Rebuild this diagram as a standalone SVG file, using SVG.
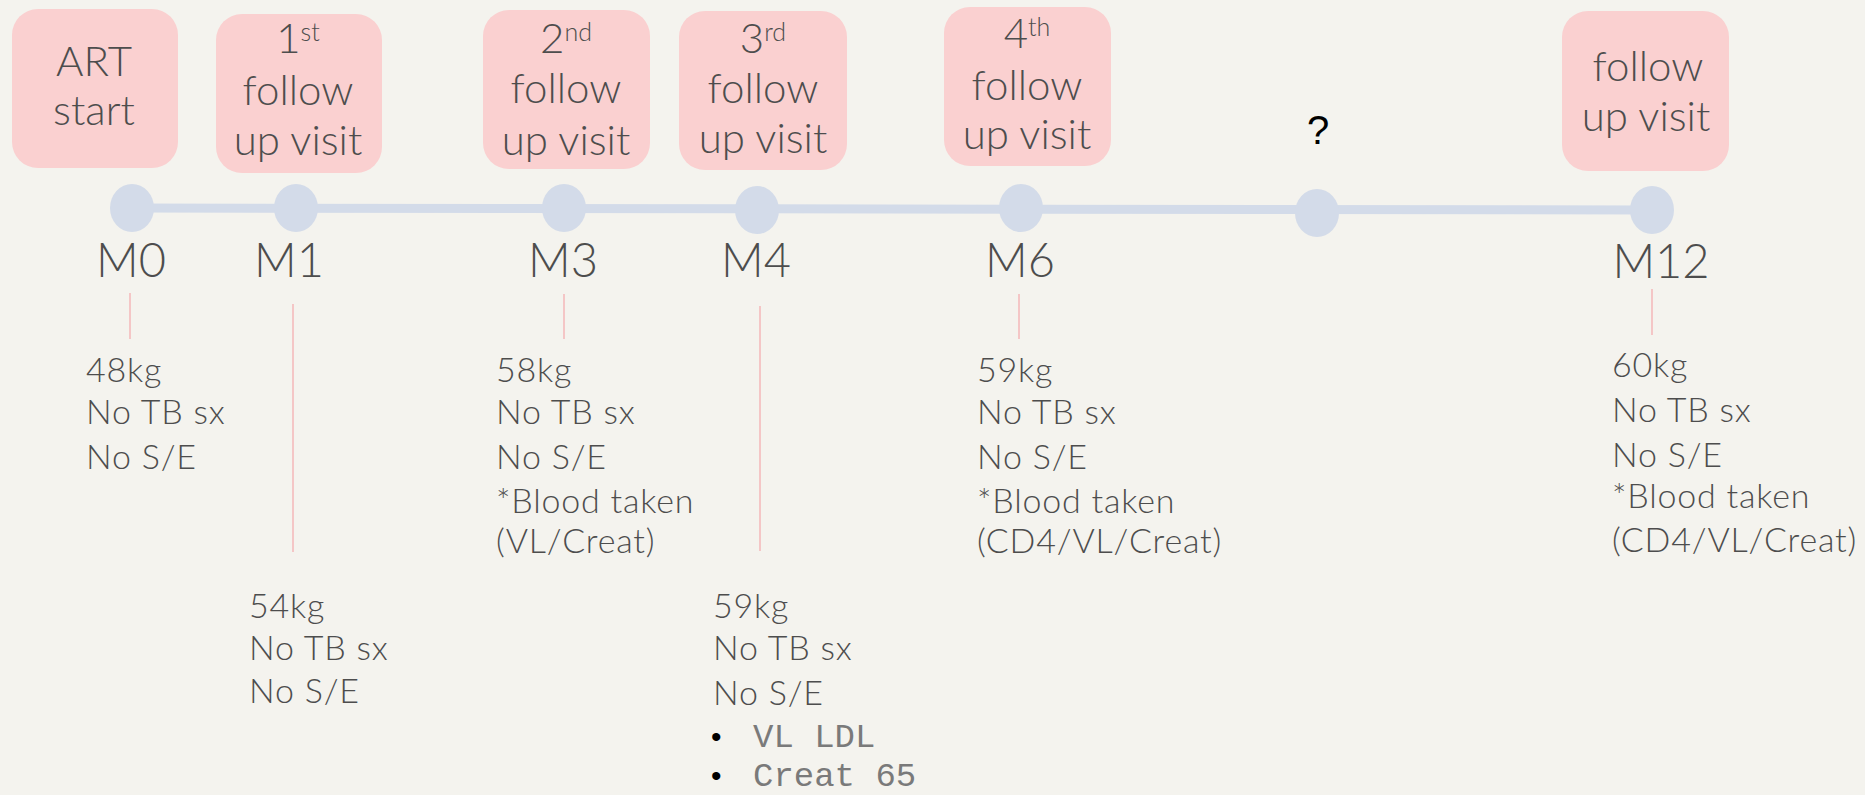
<svg xmlns="http://www.w3.org/2000/svg" width="1865" height="795" viewBox="0 0 1865 795">
<style>
.bg{fill:#F4F3EE}
.box{fill:#FAD0D0}
.dot{fill:#D3DBE9}
.axis{stroke:#D3DBE9;stroke-width:9;fill:none}
.tick{stroke:#F4C6C6;stroke-width:2}
.bt{font-family:Lato,"Open Sans",sans-serif;font-weight:300;font-size:42px;fill:#4d4d4d;text-anchor:middle}
.sup{font-size:25px}
.ml{font-family:Lato,"Open Sans",sans-serif;font-weight:300;font-size:47px;fill:#4d4d4d;text-anchor:middle}
.nt{font-family:Lato,"Open Sans",sans-serif;font-weight:300;font-size:34px;letter-spacing:0.8px;fill:#4d4d4d}
.mono{font-family:"Liberation Mono",monospace;font-weight:normal;font-size:34px;fill:#7a7a7a}
.bul{font-family:"Liberation Sans",sans-serif;font-size:30px;fill:#000000}
.q{font-family:"Liberation Sans",sans-serif;font-size:40px;fill:#000000;text-anchor:middle}
</style>
<rect class="bg" x="0" y="0" width="1865" height="795"/>
<g id="connectors">
<line class="axis" x1="132" y1="208" x2="1652" y2="210"/>
<line class="tick" x1="130" y1="293" x2="130" y2="339"/>
<line class="tick" x1="293" y1="304" x2="293" y2="552"/>
<line class="tick" x1="564" y1="294" x2="564" y2="339"/>
<line class="tick" x1="760" y1="306" x2="760" y2="551"/>
<line class="tick" x1="1019" y1="294" x2="1019" y2="339"/>
<line class="tick" x1="1652" y1="289" x2="1652" y2="335"/>
</g>
<g id="m0">
<rect class="box" x="12" y="9" width="166" height="159" rx="26"/>
<text class="bt" x="94" y="76">ART</text>
<text class="bt" x="94" y="125">start</text>
<ellipse class="dot" cx="132" cy="208" rx="22" ry="24"/>
<text class="ml" x="131" y="277">M0</text>
<text class="nt" x="86" y="382">48kg</text>
<text class="nt" x="86" y="424">No TB sx</text>
<text class="nt" x="86" y="469">No S/E</text>
</g>
<g id="m1">
<rect class="box" x="216" y="14" width="166" height="159" rx="26"/>
<text class="bt" x="298" y="53">1<tspan class="sup" dy="-12">st</tspan></text>
<text class="bt" x="298" y="105">follow</text>
<text class="bt" x="298" y="155">up visit</text>
<ellipse class="dot" cx="296" cy="208" rx="22" ry="24"/>
<text class="ml" x="289" y="277">M1</text>
<text class="nt" x="249" y="618">54kg</text>
<text class="nt" x="249" y="660">No TB sx</text>
<text class="nt" x="249" y="703">No S/E</text>
</g>
<g id="m3">
<rect class="box" x="483" y="10" width="167" height="159" rx="26"/>
<text class="bt" x="566" y="53">2<tspan class="sup" dy="-12">nd</tspan></text>
<text class="bt" x="566" y="103">follow</text>
<text class="bt" x="566" y="155">up visit</text>
<ellipse class="dot" cx="564" cy="208" rx="22" ry="24"/>
<text class="ml" x="563" y="277">M3</text>
<text class="nt" x="496" y="382">58kg</text>
<text class="nt" x="496" y="424">No TB sx</text>
<text class="nt" x="496" y="469">No S/E</text>
<text class="nt" x="496" y="513">*Blood taken</text>
<text class="nt" x="496" y="553">(VL/Creat)</text>
</g>
<g id="m4">
<rect class="box" x="679" y="11" width="168" height="159" rx="26"/>
<text class="bt" x="763" y="53">3<tspan class="sup" dy="-12">rd</tspan></text>
<text class="bt" x="763" y="103">follow</text>
<text class="bt" x="763" y="153">up visit</text>
<ellipse class="dot" cx="757" cy="210" rx="22" ry="24"/>
<text class="ml" x="756" y="277">M4</text>
<text class="nt" x="713" y="618">59kg</text>
<text class="nt" x="713" y="660">No TB sx</text>
<text class="nt" x="713" y="705">No S/E</text>
<text class="bul" x="711" y="747">•</text>
<text class="mono" x="753" y="747">VL LDL</text>
<text class="bul" x="711" y="786">•</text>
<text class="mono" x="753" y="786">Creat 65</text>
</g>
<g id="m6">
<rect class="box" x="944" y="7" width="167" height="159" rx="26"/>
<text class="bt" x="1027" y="48">4<tspan class="sup" dy="-12">th</tspan></text>
<text class="bt" x="1027" y="100">follow</text>
<text class="bt" x="1027" y="149">up visit</text>
<ellipse class="dot" cx="1021" cy="208" rx="22" ry="24"/>
<text class="ml" x="1020" y="277">M6</text>
<text class="nt" x="977" y="382">59kg</text>
<text class="nt" x="977" y="424">No TB sx</text>
<text class="nt" x="977" y="469">No S/E</text>
<text class="nt" x="977" y="513">*Blood taken</text>
<text class="nt" x="977" y="553">(CD4/VL/Creat)</text>
</g>
<g id="unknown">
<text class="q" x="1318" y="144">?</text>
<ellipse class="dot" cx="1317" cy="213" rx="22" ry="24"/>
</g>
<g id="m12">
<rect class="box" x="1562" y="11" width="167" height="160" rx="26"/>
<text class="bt" x="1648" y="81">follow</text>
<text class="bt" x="1646" y="131">up visit</text>
<ellipse class="dot" cx="1652" cy="210" rx="22" ry="24"/>
<text class="ml" x="1661" y="278">M12</text>
<text class="nt" x="1612" y="377">60kg</text>
<text class="nt" x="1612" y="422">No TB sx</text>
<text class="nt" x="1612" y="467">No S/E</text>
<text class="nt" x="1612" y="508">*Blood taken</text>
<text class="nt" x="1612" y="552">(CD4/VL/Creat)</text>
</g>
</svg>
